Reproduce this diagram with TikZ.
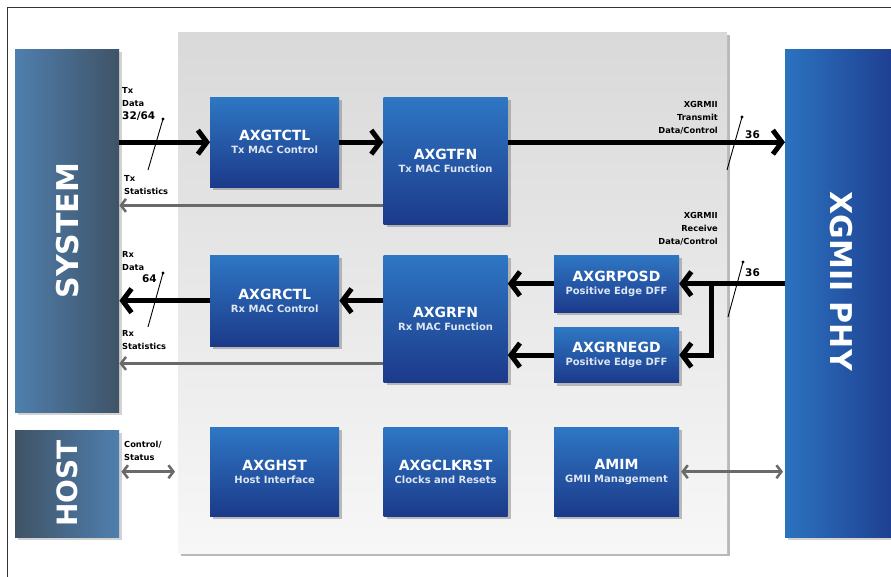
\documentclass[tikz,border=0pt]{standalone}
\usepackage{fontspec}
\setmainfont{DejaVu Sans}
\usetikzlibrary{positioning, arrows.meta, shadows}

\definecolor{blocktop}{HTML}{2E77C4}
\definecolor{blockbot}{HTML}{1C3A8A}
\definecolor{subtext}{HTML}{DDE6F2}
\definecolor{statgray}{HTML}{6A6A6A}
\definecolor{paneltop}{HTML}{D9D9D9}
\definecolor{panelbot}{HTML}{F7F7F7}
\definecolor{slatedark}{HTML}{3F5366}
\definecolor{slatelight}{HTML}{4F7FAE}
\definecolor{phyleft}{HTML}{2B73BF}
\definecolor{phyright}{HTML}{1F3D8F}

\newcommand{\blocktext}[2]{{\fontsize{14}{15}\selectfont #1}\\[1pt]{\fontsize{10}{11}\selectfont\color{subtext}#2}}

\tikzset{
block/.style={
  rectangle,
  anchor=north west,
  inner sep=0pt,
  top color=blocktop,
  bottom color=blockbot,
  text=white, font=\bfseries, align=center,
  drop shadow={shadow xshift=3pt, shadow yshift=-3pt, opacity=0.5}
  },
bigbox/.style={
  rectangle, anchor=north west, inner sep=0pt,
  drop shadow={shadow xshift=3pt, shadow yshift=-3pt, opacity=0.35}
  },
bigtext/.style={text=white, font=\bfseries\fontsize{30}{30}\selectfont},
panel/.style={
  rectangle, anchor=north west, inner sep=0pt,
  top color=paneltop, bottom color=panelbot,
  drop shadow={shadow xshift=3pt, shadow yshift=-3pt, opacity=0.55}
  },
busarrow/.style={line width=5pt, -{Straight Barb[length=9pt, width=24pt]}},
busline/.style={line width=5pt},
statarrow/.style={draw=statgray, line width=2.5pt, -{Straight Barb[length=5pt, width=13pt]}},
twoway/.style={draw=statgray, line width=2.5pt, {Straight Barb[length=5pt, width=13pt]}-{Straight Barb[length=5pt, width=13pt]}},
slash/.style={line width=0.9pt},
dot/.style={circle, fill, inner sep=1.2pt},
buslabel/.style={font=\bfseries\fontsize{8.3}{13}\selectfont, align=left, inner sep=0pt},
widthlabel/.style={font=\bfseries\fontsize{10.5}{12}\selectfont, inner sep=0pt}
}

\begin{document}
\begin{tikzpicture}[x=1pt, y=-1pt]
\useasboundingbox (0,0) rectangle (891,577);
\fill[white] (0,0) rectangle (891,577);
\draw[line width=1pt, black!80] (7,577) -- (7,8) -- (891,8);

% core panel
\node[panel, minimum width=549pt, minimum height=521pt] (panel) at (178,32) {};

% outside boxes
\node[bigbox, left color=slatelight, right color=slatedark, minimum width=104pt, minimum height=363pt] (system) at (15,49) {};
\node[bigtext, rotate=90] (systemtext) at (system.center) {SYSTEM};
\node[bigbox, left color=slatedark, right color=slatelight, minimum width=104pt, minimum height=107pt] (host) at (15,430) {};
\node[bigtext, rotate=90, font=\bfseries\fontsize{28}{28}\selectfont] (hosttext) at (host.center) {HOST};
\node[bigbox, left color=phyleft, right color=phyright, minimum width=112pt, minimum height=488pt] (phy) at (785,49) {};
\node[bigtext, rotate=-90] (phytext) at ([yshift=12pt]phy.center) {XGMII PHY};

% blocks
\node[block, minimum width=129pt, minimum height=90pt]	(txctl)	at (210,97)	{\blocktext{AXGTCTL}{Tx MAC Control}};
\node[block, minimum width=124pt, minimum height=127pt]	(txfn)	[below right=0pt and 44pt of txctl.north east]	{\blocktext{AXGTFN}{Tx MAC Function}};
\node[block, minimum width=129pt, minimum height=91pt]	(rxctl)	at (210,255)	{\blocktext{AXGRCTL}{Rx MAC Control}};
\node[block, minimum width=124pt, minimum height=127pt]	(rxfn)	[below right=0pt and 44pt of rxctl.north east]	{\blocktext{AXGRFN}{Rx MAC Function}};
\node[block, minimum width=125pt, minimum height=57pt]	(posd)	[below right=0pt and 46pt of rxfn.north east]	{\blocktext{AXGRPOSD}{Positive Edge DFF}};
\node[block, minimum width=125pt, minimum height=55pt]	(negd)	[below right=15pt and 0pt of posd.south west]	{\blocktext{AXGRNEGD}{Positive Edge DFF}};
\node[block, minimum width=129pt, minimum height=89pt]	(hst)	at (210,427)	{\blocktext{AXGHST}{Host Interface}};
\node[block, minimum width=124pt, minimum height=89pt]	(clk)	[below right=0pt and 44pt of hst.north east]	{\blocktext{AXGCLKRST}{Clocks and Resets}};
\node[block, minimum width=125pt, minimum height=89pt]	(amim)	[below right=0pt and 46pt of clk.north east]	{\blocktext{AMIM}{GMII Management}};

% transmit path
\draw[busarrow]	(system.east |- txctl.west)	--	(txctl.west);
\draw[busarrow]	(txctl.east)	--	(txfn.west |- txctl.east);
\draw[busarrow]	(txfn.east |- txctl.east)	--	(phy.west |- txctl.east);
\coordinate (txstat) at ([yshift=19pt]txfn.south west);
\draw[statarrow]	(txstat)	--	(system.east |- txstat);

% receive path
\coordinate (split) at ([xshift=32pt]posd.east);
\draw[busarrow]	(phy.west |- posd.east)	--	(posd.east);
\draw[busline]	(split)	--	(split |- negd.east);
\draw[busarrow]	([xshift=2.5pt]split |- negd.east)	--	(negd.east);
\draw[busarrow]	(posd.west)	--	(rxfn.east |- posd.west);
\draw[busarrow]	(negd.west)	--	(rxfn.east |- negd.west);
\draw[busarrow]	(rxfn.west |- rxctl.west)	--	(rxctl.east);
\draw[busarrow]	(rxctl.west)	--	(system.east |- rxctl.west);
\coordinate (rxstat) at ([yshift=19pt]rxfn.south west);
\draw[statarrow]	(rxstat)	--	(system.east |- rxstat);

% management
\draw[twoway, shorten <=2pt, shorten >=3pt]	(host.east |- hst)	--	(panel.west |- hst);
\draw[twoway, shorten <=2pt, shorten >=2pt]	(amim.east)	--	(phy.west |- amim.east);

% bus widths
\coordinate (txtap) at (156,142);
\draw[slash] (txtap) ++(-8,28) -- ++(15,-51) node[dot] (txdot) {};
\coordinate (rxtap) at (156,300);
\draw[slash] (rxtap) ++(-8,27) -- ++(15,-54) node[dot] (rxdot) {};
\coordinate (phytxtap) at (735,142);
\draw[slash] (phytxtap) ++(-8,28) -- ++(15,-53) node[dot] (phytxdot) {};
\coordinate (phyrxtap) at (736,284);
\draw[slash] (phyrxtap) ++(-8,33) -- ++(15,-55) node[dot] (phyrxdot) {};

% labels
\node[buslabel, anchor=north west]	(txdata)	at (122,87)	{Tx\\Data\\{\fontsize{10.5}{12}\selectfont 32/64}};
\node[buslabel, anchor=north west]	(txstats)	at (124,175)	{Tx\\Statistics};
\node[buslabel, anchor=north west]	(rxdata)	at (122,251)	{Rx\\Data};
\node[widthlabel, anchor=north east]	(rxwidth)	at (157,275)	{64};
\node[buslabel, anchor=north west]	(rxstats)	at (122,330)	{Rx\\Statistics};
\node[buslabel, align=right, anchor=north east]	(xtx)	at (718,101)	{XGRMII\\Transmit\\Data/Control};
\node[buslabel, align=right, anchor=north east]	(xrx)	at (718,212)	{XGRMII\\Receive\\Data/Control};
\node[widthlabel, anchor=west]	(txwidth)	at (745,135)	{36};
\node[widthlabel, anchor=west]	(rxwidth2)	at (745,273)	{36};
\node[buslabel, anchor=north west]	(ctrl)	at (124,441)	{Control/\\Status};
\end{tikzpicture}
\end{document}
